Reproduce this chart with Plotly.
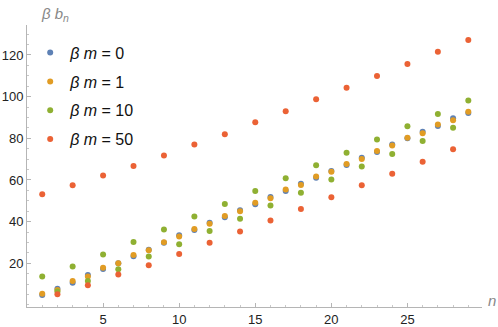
import plotly.graph_objects as go

# n values and beta*b_n for each beta*m
n = list(range(1, 30))

bm0 = [4.8, 7.8, 10.7, 14.4, 17.3, 20.0, 23.4, 26.5, 29.8, 33.4, 36.0, 39.4, 42.1, 45.5,
       48.3, 51.8, 54.7, 58.2, 61.1, 64.3, 67.2, 70.7, 73.4, 77.0, 80.0, 83.2, 85.9, 89.6, 92.2]
bm1 = [5.4, 7.2, 11.5, 13.6, 17.9, 20.0, 24.0, 26.3, 30.1, 32.8, 36.5, 39.0, 42.7, 45.0,
       49.0, 51.2, 55.4, 57.6, 61.6, 63.9, 67.7, 70.1, 73.9, 76.5, 80.3, 82.4, 86.6, 88.7, 92.8]
bm10 = [13.6, 6.4, 18.4, 11.5, 24.2, 17.1, 30.2, 23.2, 36.2, 29.1, 42.4, 35.5, 48.5, 41.4,
        54.7, 47.7, 60.8, 53.8, 67.1, 60.2, 73.1, 66.4, 79.4, 72.5, 85.8, 78.7, 91.7, 85.1, 98.1]
bm50 = [53.1, 5.1, 57.5, 9.5, 62.1, 14.6, 66.7, 19.1, 71.7, 24.5, 77.0, 29.8, 81.9, 35.2,
        87.7, 40.5, 93.0, 46.1, 98.8, 51.7, 104.3, 57.5, 109.9, 63.0, 115.7, 68.8, 121.6, 74.7, 127.2]

series = [
    ("0", bm0, "#5E81B5"),
    ("1", bm1, "#E19C24"),
    ("10", bm10, "#8FB032"),
    ("50", bm50, "#EB6235"),
]

fig = go.Figure()
for m, vals, col in series:
    fig.add_trace(go.Scatter(
        x=n, y=vals, mode="markers",
        name=f"<i>β m</i> = {m}", legendgroup=m,
        marker=dict(color=col, size=6),
    ))

axis_style = dict(
    showgrid=False, zeroline=False, showline=True, automargin=False,
    linecolor="#b5b5b5", linewidth=1,
    ticks="inside", ticklen=4, tickcolor="#b5b5b5",
    tickfont=dict(family="Liberation Sans", size=13, color="#222"),
)

fig.update_xaxes(range=[0, 29.9], tickvals=[5, 10, 15, 20, 25],
                 minor=dict(dtick=1, tick0=0, ticklen=2, ticks="inside", tickcolor="#c8c8c8"),
                 **axis_style)
fig.update_yaxes(range=[-1, 134.4], tickvals=[20, 40, 60, 80, 100, 120],
                 minor=dict(dtick=5, tick0=0, ticklen=2, ticks="inside", tickcolor="#c8c8c8"),
                 **axis_style)

fig.add_annotation(text="<i>β b</i><sub><i>n</i></sub>", xref="paper", yref="paper",
                   x=0.027, y=1.0, yshift=11, xanchor="left", yanchor="middle", showarrow=False,
                   font=dict(family="Liberation Sans", size=15, color="#888"))
fig.add_annotation(text="<i>n</i>", xref="paper", yref="paper",
                   x=1.022, y=0.0, yshift=7, xanchor="center", yanchor="middle",
                   showarrow=False, font=dict(family="Liberation Sans", size=15, color="#888"))

fig.update_layout(
    width=498, height=327,
    margin=dict(l=27, r=16, t=25, b=20),
    plot_bgcolor="white", paper_bgcolor="white",
    legend=dict(x=0.007, y=0.962, xanchor="left", yanchor="top",
                font=dict(family="Liberation Sans", size=16, color="#111"),
                tracegroupgap=5, bgcolor="rgba(0,0,0,0)"),
)

# drop the default 8px body margin so the figure fills the window
fig.write_html("out.html", config={"displayModeBar": False},
               post_script="document.body.style.margin = '0';")
